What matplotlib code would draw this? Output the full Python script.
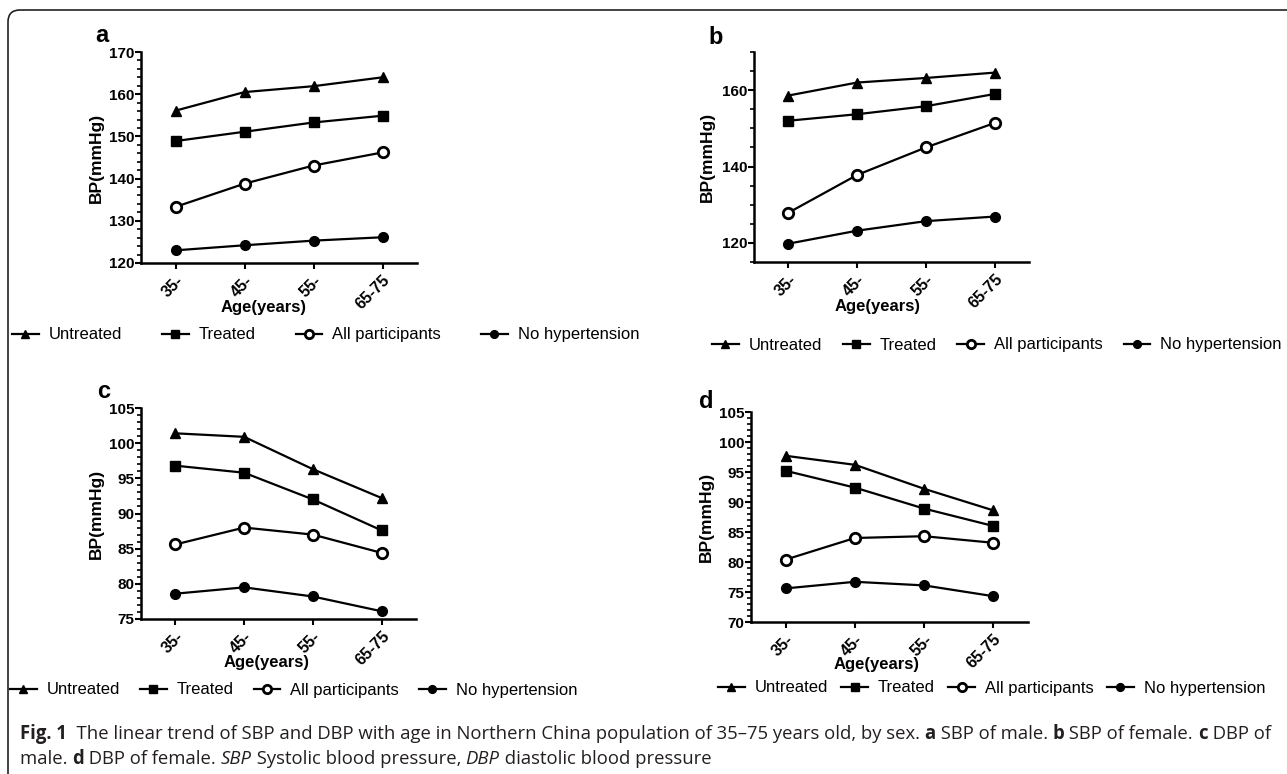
import numpy as np
import matplotlib
matplotlib.use('Agg')
from matplotlib import pyplot as plt
from matplotlib.patches import FancyBboxPatch
from matplotlib.ticker import MultipleLocator

plt.rcParams['font.family'] = ['Liberation Sans', 'DejaVu Sans']

ages = ['35-', '45-', '55-', '65-75']
groups = ['Untreated', 'Treated', 'All participants', 'No hypertension']

# panel a: SBP of male
sbp_male = {
    'Untreated': [156.1, 160.5, 161.9, 164.0],
    'Treated': [148.9, 151.1, 153.3, 154.9],
    'All participants': [133.3, 138.8, 143.1, 146.2],
    'No hypertension': [123.0, 124.2, 125.3, 126.1],
}
# panel b: SBP of female
sbp_female = {
    'Untreated': [158.6, 162.0, 163.2, 164.6],
    'Treated': [152.0, 153.7, 155.8, 159.0],
    'All participants': [127.9, 137.8, 145.0, 151.4],
    'No hypertension': [119.8, 123.2, 125.7, 126.9],
}
# panel c: DBP of male
dbp_male = {
    'Untreated': [101.4, 100.9, 96.3, 92.2],
    'Treated': [96.8, 95.8, 92.0, 87.6],
    'All participants': [85.6, 88.0, 87.0, 84.4],
    'No hypertension': [78.6, 79.5, 78.2, 76.1],
}
# panel d: DBP of female
dbp_female = {
    'Untreated': [97.7, 96.2, 92.2, 88.6],
    'Treated': [95.2, 92.4, 88.9, 86.0],
    'All participants': [80.4, 84.0, 84.3, 83.2],
    'No hypertension': [75.6, 76.7, 76.1, 74.3],
}

W, H = 1287, 774
fig = plt.figure(figsize=(W / 100, H / 100), dpi=100)


def px_rect(l, t, r, b):
    return [l / W, 1 - b / H, (r - l) / W, (b - t) / H]


STYLE = {
    'Untreated': dict(marker='^', ms=7.5, mfc='black'),
    'Treated': dict(marker='s', ms=7, mfc='black'),
    'All participants': dict(marker='o', ms=7.5, mfc='white', mew=2),
    'No hypertension': dict(marker='o', ms=7, mfc='black'),
}

panels = [
    # data, axes rect (px), ylim, major, minor, letter pos, ylabel x, xlabel pos, legend start (px), colspacing
    (sbp_male, (141, 52, 417, 263), (120, 170), 10, 2, (102, 36), -0.134, (0.443, -0.175), (12, 335), 2.4),
    (sbp_female, (754, 52, 1029, 262), (115, 170), 20, 5, (716, 38), -0.141, (0.451, -0.175), (712, 345), 1.25),
    (dbp_male, (141, 408, 416, 619), (75, 105), 5, 1, (104, 392), -0.134, (0.455, -0.17), (10, 690), 1.2),
    (dbp_female, (751, 412, 1028, 622), (70, 105), 5, 1, (706, 402), -0.134, (0.455, -0.168), (718, 688), 0.8),
]
letters = ['a', 'b', 'c', 'd']

x = np.arange(len(ages))
for (data, rect, ylim, major, minor, lpos, ylx, xlpos, legpx, colsp), letter in zip(panels, letters):
    ax = fig.add_axes(px_rect(*rect))
    for g in groups:
        ax.plot(x, data[g], color='black', lw=1.6, mec='black', label=g, clip_on=False, **STYLE[g])
    ax.set_xlim(-0.5, 3.5)
    ax.set_ylim(*ylim)
    ax.yaxis.set_major_locator(MultipleLocator(major))
    ax.yaxis.set_minor_locator(MultipleLocator(minor))
    ax.set_xticks(x)
    ax.set_xticklabels(ages, rotation=45, ha='right', rotation_mode='anchor',
                       fontsize=11.5, fontweight='bold')
    for t in ax.get_yticklabels():
        t.set_fontweight('bold')
        t.set_fontsize(11)
    ax.tick_params(axis='both', which='major', length=4, width=1.5, direction='out', pad=1)
    ax.tick_params(axis='y', which='minor', length=3, width=1.2, direction='out')
    ax.tick_params(axis='x', which='major', pad=3)
    for s in ['top', 'right']:
        ax.spines[s].set_visible(False)
    for s in ['left', 'bottom']:
        ax.spines[s].set_linewidth(1.8)
    ax.set_ylabel('BP(mmHg)', fontsize=12.5, fontweight='bold')
    ax.yaxis.set_label_coords(ylx, 0.5)
    ax.set_xlabel('Age(years)', fontsize=12, fontweight='bold')
    ax.xaxis.set_label_coords(*xlpos)
    fig.text(lpos[0] / W, 1 - lpos[1] / H, letter, fontsize=17, fontweight='bold',
             ha='center', va='center')
    ax.legend(loc='center left', bbox_to_anchor=(legpx[0] / W, 1 - legpx[1] / H),
              bbox_transform=fig.transFigure, borderaxespad=0, borderpad=0,
              ncol=4, frameon=False, fontsize=12, handlelength=1.6, handletextpad=0.6,
              columnspacing=colsp, markerscale=0.8)

# rounded border of the figure box
border = FancyBboxPatch((0.08, -0.2), 13.5, 7.64 + 0.2, boxstyle='round,pad=0,rounding_size=0.12',
                        transform=fig.dpi_scale_trans, fill=False, edgecolor='#222222', lw=1.2)
fig.patches.append(border)

# caption with mixed bold / italic segments
cap_font = ['Liberation Sans Narrow', 'Open Sans', 'DejaVu Sans']
cap_color = '#231f20'
line1 = [('Fig. 1', 'bold', 'normal'),
         ('  The linear trend of SBP and DBP with age in Northern China population of 35\u201375 years old, by sex. ', 'normal', 'normal'),
         ('a', 'bold', 'normal'), (' SBP of male. ', 'normal', 'normal'),
         ('b', 'bold', 'normal'), (' SBP of female. ', 'normal', 'normal'),
         ('c', 'bold', 'normal'), (' DBP of', 'normal', 'normal')]
line2 = [('male. ', 'normal', 'normal'), ('d', 'bold', 'normal'),
         (' DBP of female. ', 'normal', 'normal'), ('SBP', 'normal', 'italic'),
         (' Systolic blood pressure, ', 'normal', 'normal'), ('DBP', 'normal', 'italic'),
         (' diastolic blood pressure', 'normal', 'normal')]

renderer = fig.canvas.get_renderer()


def seg_width(segs, size):
    total = 0
    for txt, wt, st in segs:
        t = fig.text(0, 0, txt, fontsize=size, fontweight=wt, fontstyle=st, family=cap_font)
        total += t.get_window_extent(renderer=renderer).width
        t.remove()
    return total


cap_size = 13.5 * (1272 - 20) / seg_width(line1, 13.5)

for segs, ypx in [(line1, 734), (line2, 759)]:
    xpx = 20
    for txt, wt, st in segs:
        t = fig.text(xpx / W, 1 - ypx / H, txt, fontsize=cap_size, fontweight=wt, fontstyle=st,
                     family=cap_font, color=cap_color, ha='left', va='center')
        xpx += t.get_window_extent(renderer=renderer).width

fig.savefig('out.png', dpi=100)
